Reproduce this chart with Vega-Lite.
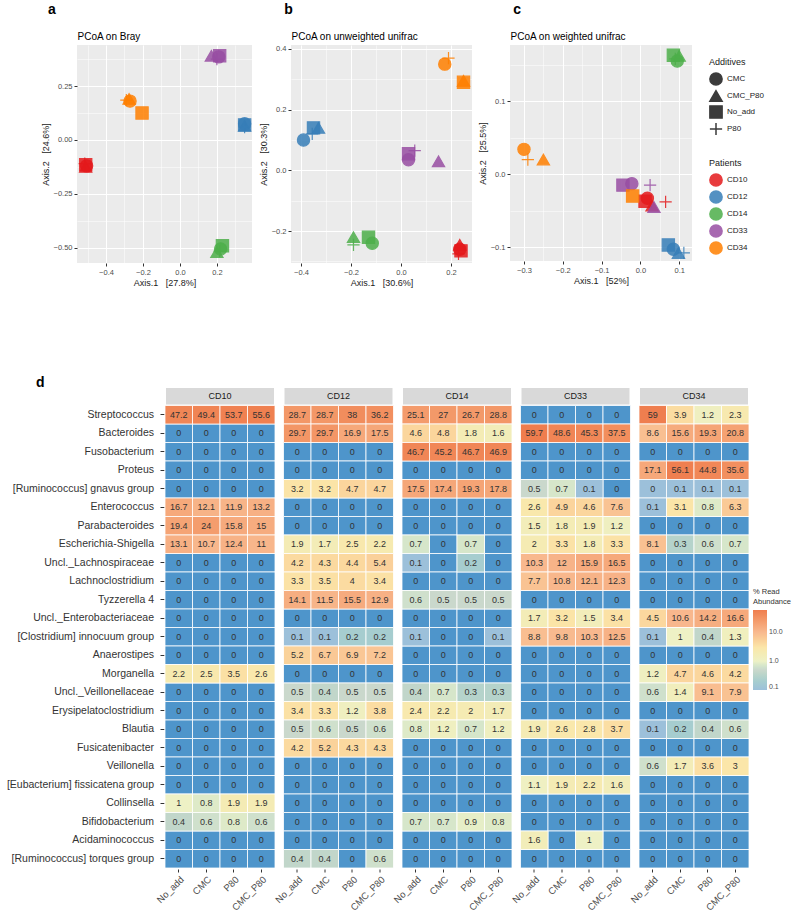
{
"$schema": "https://vega.github.io/schema/vega-lite/v6.json",
"padding": {"left": 6, "top": 3, "right": 2, "bottom": 2},
"config": {
 "font": "Liberation Sans",
 "view": {"stroke": null},
 "axis": {"domain": false, "tickColor": "#333333", "tickSize": 3, "labelColor": "#4D4D4D", "labelFontSize": 7.5, "titleColor": "#1A1A1A", "titleFontSize": 9, "titleFontWeight": "normal", "gridColor": "#FFFFFF", "labelPadding": 2, "titlePadding": 3},
 "legend": {"titleFontWeight": "normal", "titleColor": "#1A1A1A", "labelColor": "#1A1A1A", "titleFontSize": 9, "labelFontSize": 8},
 "title": {"color": "#000000"}
},
"datasets": {
 "pcoa": [
  {"pn":"a","pt":"CD10","ad":"No_add","x":-0.51,"y":-0.115},
  {"pn":"a","pt":"CD10","ad":"CMC","x":-0.505,"y":-0.12},
  {"pn":"a","pt":"CD10","ad":"CMC_P80","x":-0.51,"y":-0.125},
  {"pn":"a","pt":"CD10","ad":"P80","x":-0.515,"y":-0.11},
  {"pn":"a","pt":"CD12","ad":"No_add","x":0.35,"y":0.07},
  {"pn":"a","pt":"CD12","ad":"CMC","x":0.35,"y":0.075},
  {"pn":"a","pt":"CD12","ad":"CMC_P80","x":0.35,"y":0.065},
  {"pn":"a","pt":"CD12","ad":"P80","x":0.35,"y":0.06},
  {"pn":"a","pt":"CD14","ad":"No_add","x":0.23,"y":-0.49},
  {"pn":"a","pt":"CD14","ad":"CMC","x":0.22,"y":-0.505},
  {"pn":"a","pt":"CD14","ad":"CMC_P80","x":0.2,"y":-0.52},
  {"pn":"a","pt":"CD14","ad":"P80","x":0.215,"y":-0.515},
  {"pn":"a","pt":"CD33","ad":"No_add","x":0.215,"y":0.39},
  {"pn":"a","pt":"CD33","ad":"CMC","x":0.21,"y":0.385},
  {"pn":"a","pt":"CD33","ad":"CMC_P80","x":0.17,"y":0.39},
  {"pn":"a","pt":"CD33","ad":"P80","x":0.2,"y":0.375},
  {"pn":"a","pt":"CD34","ad":"No_add","x":-0.205,"y":0.125},
  {"pn":"a","pt":"CD34","ad":"CMC","x":-0.27,"y":0.18},
  {"pn":"a","pt":"CD34","ad":"CMC_P80","x":-0.275,"y":0.19},
  {"pn":"a","pt":"CD34","ad":"P80","x":-0.29,"y":0.185},
  {"pn":"b","pt":"CD10","ad":"No_add","x":0.24,"y":-0.265},
  {"pn":"b","pt":"CD10","ad":"CMC","x":0.235,"y":-0.26},
  {"pn":"b","pt":"CD10","ad":"CMC_P80","x":0.235,"y":-0.245},
  {"pn":"b","pt":"CD10","ad":"P80","x":0.23,"y":-0.275},
  {"pn":"b","pt":"CD12","ad":"No_add","x":-0.35,"y":0.14},
  {"pn":"b","pt":"CD12","ad":"CMC","x":-0.39,"y":0.1},
  {"pn":"b","pt":"CD12","ad":"CMC_P80","x":-0.33,"y":0.14},
  {"pn":"b","pt":"CD12","ad":"P80","x":-0.355,"y":0.12},
  {"pn":"b","pt":"CD14","ad":"No_add","x":-0.13,"y":-0.22},
  {"pn":"b","pt":"CD14","ad":"CMC","x":-0.115,"y":-0.24},
  {"pn":"b","pt":"CD14","ad":"CMC_P80","x":-0.19,"y":-0.22},
  {"pn":"b","pt":"CD14","ad":"P80","x":-0.19,"y":-0.245},
  {"pn":"b","pt":"CD33","ad":"No_add","x":0.03,"y":0.055},
  {"pn":"b","pt":"CD33","ad":"CMC","x":0.03,"y":0.035},
  {"pn":"b","pt":"CD33","ad":"CMC_P80","x":0.15,"y":0.03},
  {"pn":"b","pt":"CD33","ad":"P80","x":0.055,"y":0.065},
  {"pn":"b","pt":"CD34","ad":"No_add","x":0.25,"y":0.29},
  {"pn":"b","pt":"CD34","ad":"CMC","x":0.175,"y":0.35},
  {"pn":"b","pt":"CD34","ad":"CMC_P80","x":0.25,"y":0.295},
  {"pn":"b","pt":"CD34","ad":"P80","x":0.19,"y":0.37},
  {"pn":"c","pt":"CD10","ad":"No_add","x":0.012,"y":-0.037},
  {"pn":"c","pt":"CD10","ad":"CMC","x":0.018,"y":-0.033},
  {"pn":"c","pt":"CD10","ad":"CMC_P80","x":0.03,"y":-0.043},
  {"pn":"c","pt":"CD10","ad":"P80","x":0.065,"y":-0.038},
  {"pn":"c","pt":"CD12","ad":"No_add","x":0.072,"y":-0.097},
  {"pn":"c","pt":"CD12","ad":"CMC","x":0.085,"y":-0.103},
  {"pn":"c","pt":"CD12","ad":"CMC_P80","x":0.098,"y":-0.108},
  {"pn":"c","pt":"CD12","ad":"P80","x":0.112,"y":-0.108},
  {"pn":"c","pt":"CD14","ad":"No_add","x":0.085,"y":0.163},
  {"pn":"c","pt":"CD14","ad":"CMC","x":0.095,"y":0.155},
  {"pn":"c","pt":"CD14","ad":"CMC_P80","x":0.1,"y":0.162},
  {"pn":"c","pt":"CD14","ad":"P80","x":0.09,"y":0.158},
  {"pn":"c","pt":"CD33","ad":"No_add","x":-0.045,"y":-0.015},
  {"pn":"c","pt":"CD33","ad":"CMC","x":-0.022,"y":-0.013},
  {"pn":"c","pt":"CD33","ad":"CMC_P80","x":0.035,"y":-0.045},
  {"pn":"c","pt":"CD33","ad":"P80","x":0.025,"y":-0.015},
  {"pn":"c","pt":"CD34","ad":"No_add","x":-0.02,"y":-0.03},
  {"pn":"c","pt":"CD34","ad":"CMC","x":-0.3,"y":0.034},
  {"pn":"c","pt":"CD34","ad":"CMC_P80","x":-0.25,"y":0.02},
  {"pn":"c","pt":"CD34","ad":"P80","x":-0.29,"y":0.02}
 ],
 "species": [
  {"s":0,"g":"strip"},
  {"s":1,"g":"Streptococcus"},
  {"s":2,"g":"Bacteroides"},
  {"s":3,"g":"Fusobacterium"},
  {"s":4,"g":"Proteus"},
  {"s":5,"g":"[Ruminococcus] gnavus group"},
  {"s":6,"g":"Enterococcus"},
  {"s":7,"g":"Parabacteroides"},
  {"s":8,"g":"Escherichia-Shigella"},
  {"s":9,"g":"Uncl._Lachnospiraceae"},
  {"s":10,"g":"Lachnoclostridium"},
  {"s":11,"g":"Tyzzerella 4"},
  {"s":12,"g":"Uncl._Enterobacteriaceae"},
  {"s":13,"g":"[Clostridium] innocuum group"},
  {"s":14,"g":"Anaerostipes"},
  {"s":15,"g":"Morganella"},
  {"s":16,"g":"Uncl._Veillonellaceae"},
  {"s":17,"g":"Erysipelatoclostridium"},
  {"s":18,"g":"Blautia"},
  {"s":19,"g":"Fusicatenibacter"},
  {"s":20,"g":"Veillonella"},
  {"s":21,"g":"[Eubacterium] fissicatena group"},
  {"s":22,"g":"Collinsella"},
  {"s":23,"g":"Bifidobacterium"},
  {"s":24,"g":"Acidaminococcus"},
  {"s":25,"g":"[Ruminococcus] torques group"}
 ],
 "heat": [
  {"p":"CD10","s":0},{"p":"CD12","s":0},{"p":"CD14","s":0},{"p":"CD33","s":0},{"p":"CD34","s":0},
  {"p":"CD10","s":1,"a":"No_add","v":47.2},{"p":"CD10","s":1,"a":"CMC","v":49.4},{"p":"CD10","s":1,"a":"P80","v":53.7},{"p":"CD10","s":1,"a":"CMC_P80","v":55.6},
  {"p":"CD10","s":2,"a":"No_add","v":0},{"p":"CD10","s":2,"a":"CMC","v":0},{"p":"CD10","s":2,"a":"P80","v":0},{"p":"CD10","s":2,"a":"CMC_P80","v":0},
  {"p":"CD10","s":3,"a":"No_add","v":0},{"p":"CD10","s":3,"a":"CMC","v":0},{"p":"CD10","s":3,"a":"P80","v":0},{"p":"CD10","s":3,"a":"CMC_P80","v":0},
  {"p":"CD10","s":4,"a":"No_add","v":0},{"p":"CD10","s":4,"a":"CMC","v":0},{"p":"CD10","s":4,"a":"P80","v":0},{"p":"CD10","s":4,"a":"CMC_P80","v":0},
  {"p":"CD10","s":5,"a":"No_add","v":0},{"p":"CD10","s":5,"a":"CMC","v":0},{"p":"CD10","s":5,"a":"P80","v":0},{"p":"CD10","s":5,"a":"CMC_P80","v":0},
  {"p":"CD10","s":6,"a":"No_add","v":16.7},{"p":"CD10","s":6,"a":"CMC","v":12.1},{"p":"CD10","s":6,"a":"P80","v":11.9},{"p":"CD10","s":6,"a":"CMC_P80","v":13.2},
  {"p":"CD10","s":7,"a":"No_add","v":19.4},{"p":"CD10","s":7,"a":"CMC","v":24},{"p":"CD10","s":7,"a":"P80","v":15.8},{"p":"CD10","s":7,"a":"CMC_P80","v":15},
  {"p":"CD10","s":8,"a":"No_add","v":13.1},{"p":"CD10","s":8,"a":"CMC","v":10.7},{"p":"CD10","s":8,"a":"P80","v":12.4},{"p":"CD10","s":8,"a":"CMC_P80","v":11},
  {"p":"CD10","s":9,"a":"No_add","v":0},{"p":"CD10","s":9,"a":"CMC","v":0},{"p":"CD10","s":9,"a":"P80","v":0},{"p":"CD10","s":9,"a":"CMC_P80","v":0},
  {"p":"CD10","s":10,"a":"No_add","v":0},{"p":"CD10","s":10,"a":"CMC","v":0},{"p":"CD10","s":10,"a":"P80","v":0},{"p":"CD10","s":10,"a":"CMC_P80","v":0},
  {"p":"CD10","s":11,"a":"No_add","v":0},{"p":"CD10","s":11,"a":"CMC","v":0},{"p":"CD10","s":11,"a":"P80","v":0},{"p":"CD10","s":11,"a":"CMC_P80","v":0},
  {"p":"CD10","s":12,"a":"No_add","v":0},{"p":"CD10","s":12,"a":"CMC","v":0},{"p":"CD10","s":12,"a":"P80","v":0},{"p":"CD10","s":12,"a":"CMC_P80","v":0},
  {"p":"CD10","s":13,"a":"No_add","v":0},{"p":"CD10","s":13,"a":"CMC","v":0},{"p":"CD10","s":13,"a":"P80","v":0},{"p":"CD10","s":13,"a":"CMC_P80","v":0},
  {"p":"CD10","s":14,"a":"No_add","v":0},{"p":"CD10","s":14,"a":"CMC","v":0},{"p":"CD10","s":14,"a":"P80","v":0},{"p":"CD10","s":14,"a":"CMC_P80","v":0},
  {"p":"CD10","s":15,"a":"No_add","v":2.2},{"p":"CD10","s":15,"a":"CMC","v":2.5},{"p":"CD10","s":15,"a":"P80","v":3.5},{"p":"CD10","s":15,"a":"CMC_P80","v":2.6},
  {"p":"CD10","s":16,"a":"No_add","v":0},{"p":"CD10","s":16,"a":"CMC","v":0},{"p":"CD10","s":16,"a":"P80","v":0},{"p":"CD10","s":16,"a":"CMC_P80","v":0},
  {"p":"CD10","s":17,"a":"No_add","v":0},{"p":"CD10","s":17,"a":"CMC","v":0},{"p":"CD10","s":17,"a":"P80","v":0},{"p":"CD10","s":17,"a":"CMC_P80","v":0},
  {"p":"CD10","s":18,"a":"No_add","v":0},{"p":"CD10","s":18,"a":"CMC","v":0},{"p":"CD10","s":18,"a":"P80","v":0},{"p":"CD10","s":18,"a":"CMC_P80","v":0},
  {"p":"CD10","s":19,"a":"No_add","v":0},{"p":"CD10","s":19,"a":"CMC","v":0},{"p":"CD10","s":19,"a":"P80","v":0},{"p":"CD10","s":19,"a":"CMC_P80","v":0},
  {"p":"CD10","s":20,"a":"No_add","v":0},{"p":"CD10","s":20,"a":"CMC","v":0},{"p":"CD10","s":20,"a":"P80","v":0},{"p":"CD10","s":20,"a":"CMC_P80","v":0},
  {"p":"CD10","s":21,"a":"No_add","v":0},{"p":"CD10","s":21,"a":"CMC","v":0},{"p":"CD10","s":21,"a":"P80","v":0},{"p":"CD10","s":21,"a":"CMC_P80","v":0},
  {"p":"CD10","s":22,"a":"No_add","v":1},{"p":"CD10","s":22,"a":"CMC","v":0.8},{"p":"CD10","s":22,"a":"P80","v":1.9},{"p":"CD10","s":22,"a":"CMC_P80","v":1.9},
  {"p":"CD10","s":23,"a":"No_add","v":0.4},{"p":"CD10","s":23,"a":"CMC","v":0.6},{"p":"CD10","s":23,"a":"P80","v":0.8},{"p":"CD10","s":23,"a":"CMC_P80","v":0.6},
  {"p":"CD10","s":24,"a":"No_add","v":0},{"p":"CD10","s":24,"a":"CMC","v":0},{"p":"CD10","s":24,"a":"P80","v":0},{"p":"CD10","s":24,"a":"CMC_P80","v":0},
  {"p":"CD10","s":25,"a":"No_add","v":0},{"p":"CD10","s":25,"a":"CMC","v":0},{"p":"CD10","s":25,"a":"P80","v":0},{"p":"CD10","s":25,"a":"CMC_P80","v":0},
  {"p":"CD12","s":1,"a":"No_add","v":28.7},{"p":"CD12","s":1,"a":"CMC","v":28.7},{"p":"CD12","s":1,"a":"P80","v":38},{"p":"CD12","s":1,"a":"CMC_P80","v":36.2},
  {"p":"CD12","s":2,"a":"No_add","v":29.7},{"p":"CD12","s":2,"a":"CMC","v":29.7},{"p":"CD12","s":2,"a":"P80","v":16.9},{"p":"CD12","s":2,"a":"CMC_P80","v":17.5},
  {"p":"CD12","s":3,"a":"No_add","v":0},{"p":"CD12","s":3,"a":"CMC","v":0},{"p":"CD12","s":3,"a":"P80","v":0},{"p":"CD12","s":3,"a":"CMC_P80","v":0},
  {"p":"CD12","s":4,"a":"No_add","v":0},{"p":"CD12","s":4,"a":"CMC","v":0},{"p":"CD12","s":4,"a":"P80","v":0},{"p":"CD12","s":4,"a":"CMC_P80","v":0},
  {"p":"CD12","s":5,"a":"No_add","v":3.2},{"p":"CD12","s":5,"a":"CMC","v":3.2},{"p":"CD12","s":5,"a":"P80","v":4.7},{"p":"CD12","s":5,"a":"CMC_P80","v":4.7},
  {"p":"CD12","s":6,"a":"No_add","v":0},{"p":"CD12","s":6,"a":"CMC","v":0},{"p":"CD12","s":6,"a":"P80","v":0},{"p":"CD12","s":6,"a":"CMC_P80","v":0},
  {"p":"CD12","s":7,"a":"No_add","v":0},{"p":"CD12","s":7,"a":"CMC","v":0},{"p":"CD12","s":7,"a":"P80","v":0},{"p":"CD12","s":7,"a":"CMC_P80","v":0},
  {"p":"CD12","s":8,"a":"No_add","v":1.9},{"p":"CD12","s":8,"a":"CMC","v":1.7},{"p":"CD12","s":8,"a":"P80","v":2.5},{"p":"CD12","s":8,"a":"CMC_P80","v":2.2},
  {"p":"CD12","s":9,"a":"No_add","v":4.2},{"p":"CD12","s":9,"a":"CMC","v":4.3},{"p":"CD12","s":9,"a":"P80","v":4.4},{"p":"CD12","s":9,"a":"CMC_P80","v":5.4},
  {"p":"CD12","s":10,"a":"No_add","v":3.3},{"p":"CD12","s":10,"a":"CMC","v":3.5},{"p":"CD12","s":10,"a":"P80","v":4},{"p":"CD12","s":10,"a":"CMC_P80","v":3.4},
  {"p":"CD12","s":11,"a":"No_add","v":14.1},{"p":"CD12","s":11,"a":"CMC","v":11.5},{"p":"CD12","s":11,"a":"P80","v":15.5},{"p":"CD12","s":11,"a":"CMC_P80","v":12.9},
  {"p":"CD12","s":12,"a":"No_add","v":0},{"p":"CD12","s":12,"a":"CMC","v":0},{"p":"CD12","s":12,"a":"P80","v":0},{"p":"CD12","s":12,"a":"CMC_P80","v":0},
  {"p":"CD12","s":13,"a":"No_add","v":0.1},{"p":"CD12","s":13,"a":"CMC","v":0.1},{"p":"CD12","s":13,"a":"P80","v":0.2},{"p":"CD12","s":13,"a":"CMC_P80","v":0.2},
  {"p":"CD12","s":14,"a":"No_add","v":5.2},{"p":"CD12","s":14,"a":"CMC","v":6.7},{"p":"CD12","s":14,"a":"P80","v":6.9},{"p":"CD12","s":14,"a":"CMC_P80","v":7.2},
  {"p":"CD12","s":15,"a":"No_add","v":0},{"p":"CD12","s":15,"a":"CMC","v":0},{"p":"CD12","s":15,"a":"P80","v":0},{"p":"CD12","s":15,"a":"CMC_P80","v":0},
  {"p":"CD12","s":16,"a":"No_add","v":0.5},{"p":"CD12","s":16,"a":"CMC","v":0.4},{"p":"CD12","s":16,"a":"P80","v":0.5},{"p":"CD12","s":16,"a":"CMC_P80","v":0.5},
  {"p":"CD12","s":17,"a":"No_add","v":3.4},{"p":"CD12","s":17,"a":"CMC","v":3.3},{"p":"CD12","s":17,"a":"P80","v":1.2},{"p":"CD12","s":17,"a":"CMC_P80","v":3.8},
  {"p":"CD12","s":18,"a":"No_add","v":0.5},{"p":"CD12","s":18,"a":"CMC","v":0.6},{"p":"CD12","s":18,"a":"P80","v":0.5},{"p":"CD12","s":18,"a":"CMC_P80","v":0.6},
  {"p":"CD12","s":19,"a":"No_add","v":4.2},{"p":"CD12","s":19,"a":"CMC","v":5.2},{"p":"CD12","s":19,"a":"P80","v":4.3},{"p":"CD12","s":19,"a":"CMC_P80","v":4.3},
  {"p":"CD12","s":20,"a":"No_add","v":0},{"p":"CD12","s":20,"a":"CMC","v":0},{"p":"CD12","s":20,"a":"P80","v":0},{"p":"CD12","s":20,"a":"CMC_P80","v":0},
  {"p":"CD12","s":21,"a":"No_add","v":0},{"p":"CD12","s":21,"a":"CMC","v":0},{"p":"CD12","s":21,"a":"P80","v":0},{"p":"CD12","s":21,"a":"CMC_P80","v":0},
  {"p":"CD12","s":22,"a":"No_add","v":0},{"p":"CD12","s":22,"a":"CMC","v":0},{"p":"CD12","s":22,"a":"P80","v":0},{"p":"CD12","s":22,"a":"CMC_P80","v":0},
  {"p":"CD12","s":23,"a":"No_add","v":0},{"p":"CD12","s":23,"a":"CMC","v":0},{"p":"CD12","s":23,"a":"P80","v":0},{"p":"CD12","s":23,"a":"CMC_P80","v":0},
  {"p":"CD12","s":24,"a":"No_add","v":0},{"p":"CD12","s":24,"a":"CMC","v":0},{"p":"CD12","s":24,"a":"P80","v":0},{"p":"CD12","s":24,"a":"CMC_P80","v":0},
  {"p":"CD12","s":25,"a":"No_add","v":0.4},{"p":"CD12","s":25,"a":"CMC","v":0.4},{"p":"CD12","s":25,"a":"P80","v":0},{"p":"CD12","s":25,"a":"CMC_P80","v":0.6},
  {"p":"CD14","s":1,"a":"No_add","v":25.1},{"p":"CD14","s":1,"a":"CMC","v":27},{"p":"CD14","s":1,"a":"P80","v":26.7},{"p":"CD14","s":1,"a":"CMC_P80","v":28.8},
  {"p":"CD14","s":2,"a":"No_add","v":4.6},{"p":"CD14","s":2,"a":"CMC","v":4.8},{"p":"CD14","s":2,"a":"P80","v":1.8},{"p":"CD14","s":2,"a":"CMC_P80","v":1.6},
  {"p":"CD14","s":3,"a":"No_add","v":46.7},{"p":"CD14","s":3,"a":"CMC","v":45.2},{"p":"CD14","s":3,"a":"P80","v":46.7},{"p":"CD14","s":3,"a":"CMC_P80","v":46.9},
  {"p":"CD14","s":4,"a":"No_add","v":0},{"p":"CD14","s":4,"a":"CMC","v":0},{"p":"CD14","s":4,"a":"P80","v":0},{"p":"CD14","s":4,"a":"CMC_P80","v":0},
  {"p":"CD14","s":5,"a":"No_add","v":17.5},{"p":"CD14","s":5,"a":"CMC","v":17.4},{"p":"CD14","s":5,"a":"P80","v":19.3},{"p":"CD14","s":5,"a":"CMC_P80","v":17.8},
  {"p":"CD14","s":6,"a":"No_add","v":0},{"p":"CD14","s":6,"a":"CMC","v":0},{"p":"CD14","s":6,"a":"P80","v":0},{"p":"CD14","s":6,"a":"CMC_P80","v":0},
  {"p":"CD14","s":7,"a":"No_add","v":0},{"p":"CD14","s":7,"a":"CMC","v":0},{"p":"CD14","s":7,"a":"P80","v":0},{"p":"CD14","s":7,"a":"CMC_P80","v":0},
  {"p":"CD14","s":8,"a":"No_add","v":0.7},{"p":"CD14","s":8,"a":"CMC","v":0},{"p":"CD14","s":8,"a":"P80","v":0.7},{"p":"CD14","s":8,"a":"CMC_P80","v":0},
  {"p":"CD14","s":9,"a":"No_add","v":0.1},{"p":"CD14","s":9,"a":"CMC","v":0},{"p":"CD14","s":9,"a":"P80","v":0.2},{"p":"CD14","s":9,"a":"CMC_P80","v":0},
  {"p":"CD14","s":10,"a":"No_add","v":0},{"p":"CD14","s":10,"a":"CMC","v":0},{"p":"CD14","s":10,"a":"P80","v":0},{"p":"CD14","s":10,"a":"CMC_P80","v":0},
  {"p":"CD14","s":11,"a":"No_add","v":0.6},{"p":"CD14","s":11,"a":"CMC","v":0.5},{"p":"CD14","s":11,"a":"P80","v":0.5},{"p":"CD14","s":11,"a":"CMC_P80","v":0.5},
  {"p":"CD14","s":12,"a":"No_add","v":0},{"p":"CD14","s":12,"a":"CMC","v":0},{"p":"CD14","s":12,"a":"P80","v":0},{"p":"CD14","s":12,"a":"CMC_P80","v":0},
  {"p":"CD14","s":13,"a":"No_add","v":0.1},{"p":"CD14","s":13,"a":"CMC","v":0},{"p":"CD14","s":13,"a":"P80","v":0},{"p":"CD14","s":13,"a":"CMC_P80","v":0.1},
  {"p":"CD14","s":14,"a":"No_add","v":0},{"p":"CD14","s":14,"a":"CMC","v":0},{"p":"CD14","s":14,"a":"P80","v":0},{"p":"CD14","s":14,"a":"CMC_P80","v":0},
  {"p":"CD14","s":15,"a":"No_add","v":0},{"p":"CD14","s":15,"a":"CMC","v":0},{"p":"CD14","s":15,"a":"P80","v":0},{"p":"CD14","s":15,"a":"CMC_P80","v":0},
  {"p":"CD14","s":16,"a":"No_add","v":0.4},{"p":"CD14","s":16,"a":"CMC","v":0.7},{"p":"CD14","s":16,"a":"P80","v":0.3},{"p":"CD14","s":16,"a":"CMC_P80","v":0.3},
  {"p":"CD14","s":17,"a":"No_add","v":2.4},{"p":"CD14","s":17,"a":"CMC","v":2.2},{"p":"CD14","s":17,"a":"P80","v":2},{"p":"CD14","s":17,"a":"CMC_P80","v":1.7},
  {"p":"CD14","s":18,"a":"No_add","v":0.8},{"p":"CD14","s":18,"a":"CMC","v":1.2},{"p":"CD14","s":18,"a":"P80","v":0.7},{"p":"CD14","s":18,"a":"CMC_P80","v":1.2},
  {"p":"CD14","s":19,"a":"No_add","v":0},{"p":"CD14","s":19,"a":"CMC","v":0},{"p":"CD14","s":19,"a":"P80","v":0},{"p":"CD14","s":19,"a":"CMC_P80","v":0},
  {"p":"CD14","s":20,"a":"No_add","v":0},{"p":"CD14","s":20,"a":"CMC","v":0},{"p":"CD14","s":20,"a":"P80","v":0},{"p":"CD14","s":20,"a":"CMC_P80","v":0},
  {"p":"CD14","s":21,"a":"No_add","v":0},{"p":"CD14","s":21,"a":"CMC","v":0},{"p":"CD14","s":21,"a":"P80","v":0},{"p":"CD14","s":21,"a":"CMC_P80","v":0},
  {"p":"CD14","s":22,"a":"No_add","v":0},{"p":"CD14","s":22,"a":"CMC","v":0},{"p":"CD14","s":22,"a":"P80","v":0},{"p":"CD14","s":22,"a":"CMC_P80","v":0},
  {"p":"CD14","s":23,"a":"No_add","v":0.7},{"p":"CD14","s":23,"a":"CMC","v":0.7},{"p":"CD14","s":23,"a":"P80","v":0.9},{"p":"CD14","s":23,"a":"CMC_P80","v":0.8},
  {"p":"CD14","s":24,"a":"No_add","v":0},{"p":"CD14","s":24,"a":"CMC","v":0},{"p":"CD14","s":24,"a":"P80","v":0},{"p":"CD14","s":24,"a":"CMC_P80","v":0},
  {"p":"CD14","s":25,"a":"No_add","v":0},{"p":"CD14","s":25,"a":"CMC","v":0},{"p":"CD14","s":25,"a":"P80","v":0},{"p":"CD14","s":25,"a":"CMC_P80","v":0},
  {"p":"CD33","s":1,"a":"No_add","v":0},{"p":"CD33","s":1,"a":"CMC","v":0},{"p":"CD33","s":1,"a":"P80","v":0},{"p":"CD33","s":1,"a":"CMC_P80","v":0},
  {"p":"CD33","s":2,"a":"No_add","v":59.7},{"p":"CD33","s":2,"a":"CMC","v":48.6},{"p":"CD33","s":2,"a":"P80","v":45.3},{"p":"CD33","s":2,"a":"CMC_P80","v":37.5},
  {"p":"CD33","s":3,"a":"No_add","v":0},{"p":"CD33","s":3,"a":"CMC","v":0},{"p":"CD33","s":3,"a":"P80","v":0},{"p":"CD33","s":3,"a":"CMC_P80","v":0},
  {"p":"CD33","s":4,"a":"No_add","v":0},{"p":"CD33","s":4,"a":"CMC","v":0},{"p":"CD33","s":4,"a":"P80","v":0},{"p":"CD33","s":4,"a":"CMC_P80","v":0},
  {"p":"CD33","s":5,"a":"No_add","v":0.5},{"p":"CD33","s":5,"a":"CMC","v":0.7},{"p":"CD33","s":5,"a":"P80","v":0.1},{"p":"CD33","s":5,"a":"CMC_P80","v":0},
  {"p":"CD33","s":6,"a":"No_add","v":2.6},{"p":"CD33","s":6,"a":"CMC","v":4.9},{"p":"CD33","s":6,"a":"P80","v":4.6},{"p":"CD33","s":6,"a":"CMC_P80","v":7.6},
  {"p":"CD33","s":7,"a":"No_add","v":1.5},{"p":"CD33","s":7,"a":"CMC","v":1.8},{"p":"CD33","s":7,"a":"P80","v":1.9},{"p":"CD33","s":7,"a":"CMC_P80","v":1.2},
  {"p":"CD33","s":8,"a":"No_add","v":2},{"p":"CD33","s":8,"a":"CMC","v":3.3},{"p":"CD33","s":8,"a":"P80","v":1.8},{"p":"CD33","s":8,"a":"CMC_P80","v":3.3},
  {"p":"CD33","s":9,"a":"No_add","v":10.3},{"p":"CD33","s":9,"a":"CMC","v":12},{"p":"CD33","s":9,"a":"P80","v":15.9},{"p":"CD33","s":9,"a":"CMC_P80","v":16.5},
  {"p":"CD33","s":10,"a":"No_add","v":7.7},{"p":"CD33","s":10,"a":"CMC","v":10.8},{"p":"CD33","s":10,"a":"P80","v":12.1},{"p":"CD33","s":10,"a":"CMC_P80","v":12.3},
  {"p":"CD33","s":11,"a":"No_add","v":0},{"p":"CD33","s":11,"a":"CMC","v":0},{"p":"CD33","s":11,"a":"P80","v":0},{"p":"CD33","s":11,"a":"CMC_P80","v":0},
  {"p":"CD33","s":12,"a":"No_add","v":1.7},{"p":"CD33","s":12,"a":"CMC","v":3.2},{"p":"CD33","s":12,"a":"P80","v":1.5},{"p":"CD33","s":12,"a":"CMC_P80","v":3.4},
  {"p":"CD33","s":13,"a":"No_add","v":8.8},{"p":"CD33","s":13,"a":"CMC","v":9.8},{"p":"CD33","s":13,"a":"P80","v":10.3},{"p":"CD33","s":13,"a":"CMC_P80","v":12.5},
  {"p":"CD33","s":14,"a":"No_add","v":0},{"p":"CD33","s":14,"a":"CMC","v":0},{"p":"CD33","s":14,"a":"P80","v":0},{"p":"CD33","s":14,"a":"CMC_P80","v":0},
  {"p":"CD33","s":15,"a":"No_add","v":0},{"p":"CD33","s":15,"a":"CMC","v":0},{"p":"CD33","s":15,"a":"P80","v":0},{"p":"CD33","s":15,"a":"CMC_P80","v":0},
  {"p":"CD33","s":16,"a":"No_add","v":0},{"p":"CD33","s":16,"a":"CMC","v":0},{"p":"CD33","s":16,"a":"P80","v":0},{"p":"CD33","s":16,"a":"CMC_P80","v":0},
  {"p":"CD33","s":17,"a":"No_add","v":0},{"p":"CD33","s":17,"a":"CMC","v":0},{"p":"CD33","s":17,"a":"P80","v":0},{"p":"CD33","s":17,"a":"CMC_P80","v":0},
  {"p":"CD33","s":18,"a":"No_add","v":1.9},{"p":"CD33","s":18,"a":"CMC","v":2.6},{"p":"CD33","s":18,"a":"P80","v":2.8},{"p":"CD33","s":18,"a":"CMC_P80","v":3.7},
  {"p":"CD33","s":19,"a":"No_add","v":0},{"p":"CD33","s":19,"a":"CMC","v":0},{"p":"CD33","s":19,"a":"P80","v":0},{"p":"CD33","s":19,"a":"CMC_P80","v":0},
  {"p":"CD33","s":20,"a":"No_add","v":0},{"p":"CD33","s":20,"a":"CMC","v":0},{"p":"CD33","s":20,"a":"P80","v":0},{"p":"CD33","s":20,"a":"CMC_P80","v":0},
  {"p":"CD33","s":21,"a":"No_add","v":1.1},{"p":"CD33","s":21,"a":"CMC","v":1.9},{"p":"CD33","s":21,"a":"P80","v":2.2},{"p":"CD33","s":21,"a":"CMC_P80","v":1.6},
  {"p":"CD33","s":22,"a":"No_add","v":0},{"p":"CD33","s":22,"a":"CMC","v":0},{"p":"CD33","s":22,"a":"P80","v":0},{"p":"CD33","s":22,"a":"CMC_P80","v":0},
  {"p":"CD33","s":23,"a":"No_add","v":0},{"p":"CD33","s":23,"a":"CMC","v":0},{"p":"CD33","s":23,"a":"P80","v":0},{"p":"CD33","s":23,"a":"CMC_P80","v":0},
  {"p":"CD33","s":24,"a":"No_add","v":1.6},{"p":"CD33","s":24,"a":"CMC","v":0},{"p":"CD33","s":24,"a":"P80","v":1},{"p":"CD33","s":24,"a":"CMC_P80","v":0},
  {"p":"CD33","s":25,"a":"No_add","v":0},{"p":"CD33","s":25,"a":"CMC","v":0},{"p":"CD33","s":25,"a":"P80","v":0},{"p":"CD33","s":25,"a":"CMC_P80","v":0},
  {"p":"CD34","s":1,"a":"No_add","v":59},{"p":"CD34","s":1,"a":"CMC","v":3.9},{"p":"CD34","s":1,"a":"P80","v":1.2},{"p":"CD34","s":1,"a":"CMC_P80","v":2.3},
  {"p":"CD34","s":2,"a":"No_add","v":8.6},{"p":"CD34","s":2,"a":"CMC","v":15.6},{"p":"CD34","s":2,"a":"P80","v":19.3},{"p":"CD34","s":2,"a":"CMC_P80","v":20.8},
  {"p":"CD34","s":3,"a":"No_add","v":0},{"p":"CD34","s":3,"a":"CMC","v":0},{"p":"CD34","s":3,"a":"P80","v":0},{"p":"CD34","s":3,"a":"CMC_P80","v":0},
  {"p":"CD34","s":4,"a":"No_add","v":17.1},{"p":"CD34","s":4,"a":"CMC","v":56.1},{"p":"CD34","s":4,"a":"P80","v":44.8},{"p":"CD34","s":4,"a":"CMC_P80","v":35.6},
  {"p":"CD34","s":5,"a":"No_add","v":0.04},{"p":"CD34","s":5,"a":"CMC","v":0.1},{"p":"CD34","s":5,"a":"P80","v":0.1},{"p":"CD34","s":5,"a":"CMC_P80","v":0.1},
  {"p":"CD34","s":6,"a":"No_add","v":0.1},{"p":"CD34","s":6,"a":"CMC","v":3.1},{"p":"CD34","s":6,"a":"P80","v":0.8},{"p":"CD34","s":6,"a":"CMC_P80","v":6.3},
  {"p":"CD34","s":7,"a":"No_add","v":0},{"p":"CD34","s":7,"a":"CMC","v":0},{"p":"CD34","s":7,"a":"P80","v":0},{"p":"CD34","s":7,"a":"CMC_P80","v":0},
  {"p":"CD34","s":8,"a":"No_add","v":8.1},{"p":"CD34","s":8,"a":"CMC","v":0.3},{"p":"CD34","s":8,"a":"P80","v":0.6},{"p":"CD34","s":8,"a":"CMC_P80","v":0.7},
  {"p":"CD34","s":9,"a":"No_add","v":0},{"p":"CD34","s":9,"a":"CMC","v":0},{"p":"CD34","s":9,"a":"P80","v":0},{"p":"CD34","s":9,"a":"CMC_P80","v":0},
  {"p":"CD34","s":10,"a":"No_add","v":0},{"p":"CD34","s":10,"a":"CMC","v":0},{"p":"CD34","s":10,"a":"P80","v":0},{"p":"CD34","s":10,"a":"CMC_P80","v":0},
  {"p":"CD34","s":11,"a":"No_add","v":0},{"p":"CD34","s":11,"a":"CMC","v":0},{"p":"CD34","s":11,"a":"P80","v":0},{"p":"CD34","s":11,"a":"CMC_P80","v":0},
  {"p":"CD34","s":12,"a":"No_add","v":4.5},{"p":"CD34","s":12,"a":"CMC","v":10.6},{"p":"CD34","s":12,"a":"P80","v":14.2},{"p":"CD34","s":12,"a":"CMC_P80","v":16.6},
  {"p":"CD34","s":13,"a":"No_add","v":0.1},{"p":"CD34","s":13,"a":"CMC","v":1},{"p":"CD34","s":13,"a":"P80","v":0.4},{"p":"CD34","s":13,"a":"CMC_P80","v":1.3},
  {"p":"CD34","s":14,"a":"No_add","v":0},{"p":"CD34","s":14,"a":"CMC","v":0},{"p":"CD34","s":14,"a":"P80","v":0},{"p":"CD34","s":14,"a":"CMC_P80","v":0},
  {"p":"CD34","s":15,"a":"No_add","v":1.2},{"p":"CD34","s":15,"a":"CMC","v":4.7},{"p":"CD34","s":15,"a":"P80","v":4.6},{"p":"CD34","s":15,"a":"CMC_P80","v":4.2},
  {"p":"CD34","s":16,"a":"No_add","v":0.6},{"p":"CD34","s":16,"a":"CMC","v":1.4},{"p":"CD34","s":16,"a":"P80","v":9.1},{"p":"CD34","s":16,"a":"CMC_P80","v":7.9},
  {"p":"CD34","s":17,"a":"No_add","v":0},{"p":"CD34","s":17,"a":"CMC","v":0},{"p":"CD34","s":17,"a":"P80","v":0},{"p":"CD34","s":17,"a":"CMC_P80","v":0},
  {"p":"CD34","s":18,"a":"No_add","v":0.1},{"p":"CD34","s":18,"a":"CMC","v":0.2},{"p":"CD34","s":18,"a":"P80","v":0.4},{"p":"CD34","s":18,"a":"CMC_P80","v":0.6},
  {"p":"CD34","s":19,"a":"No_add","v":0},{"p":"CD34","s":19,"a":"CMC","v":0},{"p":"CD34","s":19,"a":"P80","v":0},{"p":"CD34","s":19,"a":"CMC_P80","v":0},
  {"p":"CD34","s":20,"a":"No_add","v":0.6},{"p":"CD34","s":20,"a":"CMC","v":1.7},{"p":"CD34","s":20,"a":"P80","v":3.6},{"p":"CD34","s":20,"a":"CMC_P80","v":3},
  {"p":"CD34","s":21,"a":"No_add","v":0},{"p":"CD34","s":21,"a":"CMC","v":0},{"p":"CD34","s":21,"a":"P80","v":0},{"p":"CD34","s":21,"a":"CMC_P80","v":0},
  {"p":"CD34","s":22,"a":"No_add","v":0},{"p":"CD34","s":22,"a":"CMC","v":0},{"p":"CD34","s":22,"a":"P80","v":0},{"p":"CD34","s":22,"a":"CMC_P80","v":0},
  {"p":"CD34","s":23,"a":"No_add","v":0},{"p":"CD34","s":23,"a":"CMC","v":0},{"p":"CD34","s":23,"a":"P80","v":0},{"p":"CD34","s":23,"a":"CMC_P80","v":0},
  {"p":"CD34","s":24,"a":"No_add","v":0},{"p":"CD34","s":24,"a":"CMC","v":0},{"p":"CD34","s":24,"a":"P80","v":0},{"p":"CD34","s":24,"a":"CMC_P80","v":0},
  {"p":"CD34","s":25,"a":"No_add","v":0},{"p":"CD34","s":25,"a":"CMC","v":0},{"p":"CD34","s":25,"a":"P80","v":0},{"p":"CD34","s":25,"a":"CMC_P80","v":0}
 ]
},
"vconcat": [
 {
  "hconcat": [
   {"width": 28, "height": 10, "data": {"values": [{"z": 0}]}, "mark": {"type": "point", "opacity": 0}, "encoding": {}},
   {
    "width": 175, "height": 218,
    "view": {"fill": "#EBEBEB", "stroke": null},
    "title": {"text": "a", "anchor": "start", "frame": "bounds", "fontSize": 14, "fontWeight": "bold", "offset": 14, "dx": 7},
    "data": {"name": "pcoa"},
    "transform": [{"filter": "datum.pn == 'a'"}],
    "layer": [
     {"mark": {"type": "point", "filled": true, "size": 150, "strokeWidth": 1.2, "opacity": 0.85},
      "encoding": {
       "x": {"field": "x", "type": "quantitative", "scale": {"domain": [-0.557, 0.39], "nice": false, "zero": false},
        "axis": {"title": "Axis.1\u00a0\u00a0 [27.8%]", "values": [-0.5,-0.4,-0.3,-0.2,-0.1,0,0.1,0.2,0.3], "format": ".1f",
         "labelExpr": "indexof([-0.4,-0.2,0,0.2], datum.value) >= 0 ? datum.label : ''",
         "tickOpacity": {"condition": {"test": "indexof([-0.4,-0.2,0,0.2], datum.value) < 0", "value": 0}, "value": 1},
         "gridWidth": {"condition": {"test": "indexof([-0.4,-0.2,0,0.2], datum.value) < 0", "value": 0.5}, "value": 1.1}}},
       "y": {"field": "y", "type": "quantitative", "scale": {"domain": [-0.57, 0.44], "nice": false, "zero": false},
        "axis": {"title": "Axis.2\u00a0\u00a0 [24.6%]", "values": [-0.5,-0.375,-0.25,-0.125,0,0.125,0.25,0.375], "format": ".2f",
         "labelExpr": "indexof([-0.5,-0.25,0,0.25], datum.value) >= 0 ? datum.label : ''",
         "tickOpacity": {"condition": {"test": "indexof([-0.5,-0.25,0,0.25], datum.value) < 0", "value": 0}, "value": 1},
         "gridWidth": {"condition": {"test": "indexof([-0.5,-0.25,0,0.25], datum.value) < 0", "value": 0.5}, "value": 1.1}}},
       "color": {"field": "pt", "type": "nominal", "scale": {"domain": ["CD10","CD12","CD14","CD33","CD34"], "range": ["#E41A1C","#377EB8","#4DAF4A","#984EA3","#FF7F00"]},
        "legend": {"title": "Patients", "orient": "none", "legendX": 701, "legendY": 114, "symbolType": "circle", "symbolSize": 150, "symbolOpacity": 0.85, "rowPadding": -4}},
       "stroke": {"field": "pt", "type": "nominal", "scale": {"domain": ["CD10","CD12","CD14","CD33","CD34"], "range": ["#E41A1C","#377EB8","#4DAF4A","#984EA3","#FF7F00"]}, "legend": null},
       "shape": {"field": "ad", "type": "nominal", "scale": {"domain": ["CMC","CMC_P80","No_add","P80"], "range": ["circle","triangle-up","square","M-1,0H1M0,-1V1"]},
        "legend": {"title": "Additives", "orient": "none", "legendX": 701, "legendY": 13, "symbolSize": 150, "rowPadding": -4, "symbolStrokeColor": "#1A1A1A", "symbolStrokeWidth": 1.5, "symbolFillColor": "#1A1A1A",
         "encode": {"symbols": {"enter": {"stroke": {"value": "#1A1A1A"}, "strokeWidth": {"value": 1.5}}, "update": {"fill": {"value": "#1A1A1A"}, "stroke": {"value": "#1A1A1A"}, "strokeWidth": {"value": 1.5}, "opacity": {"value": 1}}}}}}
      }},
     {"mark": {"type": "point", "opacity": 0},
      "encoding": {"x": {"field": "x", "type": "quantitative", "axis": {"orient": "top", "title": "PCoA on Bray", "labels": false, "ticks": false, "domain": false, "grid": false, "titleAnchor": "start", "titleAlign": "left", "titlePadding": 4, "titleFontSize": 10, "titleColor": "#000000"}}}}
    ],
    "resolve": {"axis": {"x": "independent"}}
   },
   {
    "width": 181, "height": 218,
    "view": {"fill": "#EBEBEB", "stroke": null},
    "title": {"text": "b", "anchor": "start", "frame": "bounds", "fontSize": 14, "fontWeight": "bold", "offset": 14, "dx": 25},
    "data": {"name": "pcoa"},
    "transform": [{"filter": "datum.pn == 'b'"}],
    "layer": [
     {"mark": {"type": "point", "filled": true, "size": 150, "strokeWidth": 1.2, "opacity": 0.85},
      "encoding": {
       "x": {"field": "x", "type": "quantitative", "scale": {"domain": [-0.44, 0.284], "nice": false, "zero": false},
        "axis": {"title": "Axis.1\u00a0\u00a0 [30.6%]", "values": [-0.4,-0.3,-0.2,-0.1,0,0.1,0.2], "format": ".1f",
         "labelExpr": "indexof([-0.4,-0.2,0,0.2], datum.value) >= 0 ? datum.label : ''",
         "tickOpacity": {"condition": {"test": "indexof([-0.4,-0.2,0,0.2], datum.value) < 0", "value": 0}, "value": 1},
         "gridWidth": {"condition": {"test": "indexof([-0.4,-0.2,0,0.2], datum.value) < 0", "value": 0.5}, "value": 1.1}}},
       "y": {"field": "y", "type": "quantitative", "scale": {"domain": [-0.305, 0.413], "nice": false, "zero": false},
        "axis": {"title": "Axis.2\u00a0\u00a0 [30.3%]", "values": [-0.3,-0.2,-0.1,0,0.1,0.2,0.3,0.4], "format": ".1f",
         "labelExpr": "indexof([-0.2,0,0.2,0.4], datum.value) >= 0 ? datum.label : ''",
         "tickOpacity": {"condition": {"test": "indexof([-0.2,0,0.2,0.4], datum.value) < 0", "value": 0}, "value": 1},
         "gridWidth": {"condition": {"test": "indexof([-0.2,0,0.2,0.4], datum.value) < 0", "value": 0.5}, "value": 1.1}}},
       "color": {"field": "pt", "type": "nominal", "scale": {"domain": ["CD10","CD12","CD14","CD33","CD34"], "range": ["#E41A1C","#377EB8","#4DAF4A","#984EA3","#FF7F00"]},
        "legend": {"title": "Patients", "orient": "none", "legendX": 701, "legendY": 114, "symbolType": "circle", "symbolSize": 150, "symbolOpacity": 0.85, "rowPadding": -4}},
       "stroke": {"field": "pt", "type": "nominal", "scale": {"domain": ["CD10","CD12","CD14","CD33","CD34"], "range": ["#E41A1C","#377EB8","#4DAF4A","#984EA3","#FF7F00"]}, "legend": null},
       "shape": {"field": "ad", "type": "nominal", "scale": {"domain": ["CMC","CMC_P80","No_add","P80"], "range": ["circle","triangle-up","square","M-1,0H1M0,-1V1"]},
        "legend": {"title": "Additives", "orient": "none", "legendX": 701, "legendY": 13, "symbolSize": 150, "rowPadding": -4, "symbolStrokeColor": "#1A1A1A", "symbolStrokeWidth": 1.5, "symbolFillColor": "#1A1A1A",
         "encode": {"symbols": {"enter": {"stroke": {"value": "#1A1A1A"}, "strokeWidth": {"value": 1.5}}, "update": {"fill": {"value": "#1A1A1A"}, "stroke": {"value": "#1A1A1A"}, "strokeWidth": {"value": 1.5}, "opacity": {"value": 1}}}}}}
      }},
     {"mark": {"type": "point", "opacity": 0},
      "encoding": {"x": {"field": "x", "type": "quantitative", "axis": {"orient": "top", "title": "PCoA on unweighted unifrac", "labels": false, "ticks": false, "domain": false, "grid": false, "titleAnchor": "start", "titleAlign": "left", "titlePadding": 4, "titleFontSize": 10, "titleColor": "#000000"}}}}
    ],
    "resolve": {"axis": {"x": "independent"}}
   },
   {
    "width": 182, "height": 216,
    "view": {"fill": "#EBEBEB", "stroke": null},
    "title": {"text": "c", "anchor": "start", "frame": "bounds", "fontSize": 14, "fontWeight": "bold", "offset": 14, "dx": 35},
    "data": {"name": "pcoa"},
    "transform": [{"filter": "datum.pn == 'c'"}],
    "layer": [
     {"mark": {"type": "point", "filled": true, "size": 150, "strokeWidth": 1.2, "opacity": 0.85},
      "encoding": {
       "x": {"field": "x", "type": "quantitative", "scale": {"domain": [-0.336, 0.133], "nice": false, "zero": false},
        "axis": {"title": "Axis.1\u00a0\u00a0 [52%]", "values": [-0.3,-0.25,-0.2,-0.15,-0.1,-0.05,0,0.05,0.1], "format": ".1f",
         "labelExpr": "indexof([-0.3,-0.2,-0.1,0,0.1], datum.value) >= 0 ? datum.label : ''",
         "tickOpacity": {"condition": {"test": "indexof([-0.3,-0.2,-0.1,0,0.1], datum.value) < 0", "value": 0}, "value": 1},
         "gridWidth": {"condition": {"test": "indexof([-0.3,-0.2,-0.1,0,0.1], datum.value) < 0", "value": 0.5}, "value": 1.1}}},
       "y": {"field": "y", "type": "quantitative", "scale": {"domain": [-0.119, 0.177], "nice": false, "zero": false},
        "axis": {"title": "Axis.2\u00a0\u00a0 [25.5%]", "values": [-0.1,-0.05,0,0.05,0.1,0.15], "format": ".1f",
         "labelExpr": "indexof([-0.1,0,0.1], datum.value) >= 0 ? datum.label : ''",
         "tickOpacity": {"condition": {"test": "indexof([-0.1,0,0.1], datum.value) < 0", "value": 0}, "value": 1},
         "gridWidth": {"condition": {"test": "indexof([-0.1,0,0.1], datum.value) < 0", "value": 0.5}, "value": 1.1}}},
       "color": {"field": "pt", "type": "nominal", "scale": {"domain": ["CD10","CD12","CD14","CD33","CD34"], "range": ["#E41A1C","#377EB8","#4DAF4A","#984EA3","#FF7F00"]},
        "legend": {"title": "Patients", "orient": "none", "legendX": 701, "legendY": 114, "symbolType": "circle", "symbolSize": 150, "symbolOpacity": 0.85, "rowPadding": -4}},
       "stroke": {"field": "pt", "type": "nominal", "scale": {"domain": ["CD10","CD12","CD14","CD33","CD34"], "range": ["#E41A1C","#377EB8","#4DAF4A","#984EA3","#FF7F00"]}, "legend": null},
       "shape": {"field": "ad", "type": "nominal", "scale": {"domain": ["CMC","CMC_P80","No_add","P80"], "range": ["circle","triangle-up","square","M-1,0H1M0,-1V1"]},
        "legend": {"title": "Additives", "orient": "none", "legendX": 701, "legendY": 13, "symbolSize": 150, "rowPadding": -4, "symbolStrokeColor": "#1A1A1A", "symbolStrokeWidth": 1.5, "symbolFillColor": "#1A1A1A",
         "encode": {"symbols": {"enter": {"stroke": {"value": "#1A1A1A"}, "strokeWidth": {"value": 1.5}}, "update": {"fill": {"value": "#1A1A1A"}, "stroke": {"value": "#1A1A1A"}, "strokeWidth": {"value": 1.5}, "opacity": {"value": 1}}}}}}
      }},
     {"mark": {"type": "point", "opacity": 0},
      "encoding": {"x": {"field": "x", "type": "quantitative", "axis": {"orient": "top", "title": "PCoA on weighted unifrac", "labels": false, "ticks": false, "domain": false, "grid": false, "titleAnchor": "start", "titleAlign": "left", "titlePadding": 4, "titleFontSize": 10, "titleColor": "#000000"}}}}
    ],
    "resolve": {"axis": {"x": "independent"}}
   }
  ],
  "spacing": 5,
  "resolve": {"scale": {"color": "shared", "stroke": "shared", "shape": "shared"}}
 },
 {
  "title": {"text": "d", "anchor": "start", "frame": "bounds", "fontSize": 14, "fontWeight": "bold", "offset": -4, "dx": 29},
  "hconcat": [
   {
    "data": {"name": "species"},
    "transform": [{"filter": "datum.s > 0"}],
    "width": 146, "height": 481,
    "mark": {"type": "text", "align": "right", "baseline": "middle", "fontSize": 10.5, "color": "#333333"},
    "encoding": {
     "y": {"field": "g", "type": "nominal", "axis": null,
      "scale": {"domain": ["strip","Streptococcus","Bacteroides","Fusobacterium","Proteus","[Ruminococcus] gnavus group","Enterococcus","Parabacteroides","Escherichia-Shigella","Uncl._Lachnospiraceae","Lachnoclostridium","Tyzzerella 4","Uncl._Enterobacteriaceae","[Clostridium] innocuum group","Anaerostipes","Morganella","Uncl._Veillonellaceae","Erysipelatoclostridium","Blautia","Fusicatenibacter","Veillonella","[Eubacterium] fissicatena group","Collinsella","Bifidobacterium","Acidaminococcus","[Ruminococcus] torques group"], "paddingInner": 0, "paddingOuter": 0}},
     "x": {"datum": 1, "type": "quantitative", "scale": {"domain": [0, 1]}, "axis": null},
     "text": {"field": "g"}
    }
   },
   {
    "data": {"name": "heat"},
    "transform": [{"lookup": "s", "from": {"data": {"name": "species"}, "key": "s", "fields": ["g"]}}],
    "facet": {"column": {"field": "p", "type": "nominal", "header": {"labels": false, "title": null}}},
    "spacing": {"column": 6.5},
    "spec": {
     "width": 110, "height": 481,
     "view": {"stroke": null},
     "encoding": {
      "y": {"field": "g", "type": "nominal",
       "scale": {"domain": ["strip","Streptococcus","Bacteroides","Fusobacterium","Proteus","[Ruminococcus] gnavus group","Enterococcus","Parabacteroides","Escherichia-Shigella","Uncl._Lachnospiraceae","Lachnoclostridium","Tyzzerella 4","Uncl._Enterobacteriaceae","[Clostridium] innocuum group","Anaerostipes","Morganella","Uncl._Veillonellaceae","Erysipelatoclostridium","Blautia","Fusicatenibacter","Veillonella","[Eubacterium] fissicatena group","Collinsella","Bifidobacterium","Acidaminococcus","[Ruminococcus] torques group"], "paddingInner": 0, "paddingOuter": 0},
       "axis": {"title": null, "labels": false, "tickSize": 4, "grid": false,
        "tickOpacity": {"condition": {"test": "datum.value == 'strip'", "value": 0}, "value": 1}}}
     },
     "layer": [
      {"transform": [{"filter": "datum.s == 0"}], "mark": {"type": "rect", "color": "#D9D9D9", "stroke": "#FFFFFF", "strokeWidth": 2}, "encoding": {}},
      {"transform": [{"filter": "datum.s == 0"}], "mark": {"type": "text", "fontSize": 9, "color": "#1A1A1A"}, "encoding": {"text": {"field": "p"}}},
      {"transform": [{"filter": "datum.s > 0 && datum.v == 0"}], "mark": {"type": "rect", "color": "#4E95CB", "stroke": "#FFFFFF", "strokeWidth": 0.8},
       "encoding": {"x": {"field": "a", "type": "nominal", "scale": {"domain": ["No_add","CMC","P80","CMC_P80"], "paddingInner": 0, "paddingOuter": 0},
        "axis": {"title": null, "labelAngle": -45, "labelFontSize": 9.5, "labelColor": "#4D4D4D", "tickSize": 3, "grid": false}}}},
      {"transform": [{"filter": "datum.s > 0 && datum.v > 0"}], "mark": {"type": "rect", "stroke": "#FFFFFF", "strokeWidth": 0.8},
       "encoding": {"x": {"field": "a", "type": "nominal", "scale": {"domain": ["No_add","CMC","P80","CMC_P80"], "paddingInner": 0, "paddingOuter": 0},
        "axis": {"title": null, "labelAngle": -45, "labelFontSize": 9.5, "labelColor": "#4D4D4D", "tickSize": 3, "grid": false}},
        "color": {"field": "v", "type": "quantitative",
         "scale": {"type": "log", "domain": [0.1, 0.5, 1, 3, 10, 60], "range": ["#9CC0DA", "#CAD8CC", "#EEF1C5", "#FBE6A9", "#F8B98F", "#EF7D4E"], "clamp": true},
         "legend": {"title": ["% Read", "Abundance"], "orient": "none", "legendX": 588, "legendY": 201, "values": [0.1, 1, 10], "format": ".1f", "gradientLength": 80, "gradientThickness": 14, "titleFontSize": 7.5, "labelFontSize": 7, "labelColor": "#4D4D4D", "titleColor": "#333333"}}}},
      {"transform": [{"filter": "datum.s > 0"}], "mark": {"type": "text", "fontSize": 9, "color": "#333333"},
       "encoding": {"x": {"field": "a", "type": "nominal", "scale": {"domain": ["No_add","CMC","P80","CMC_P80"], "paddingInner": 0, "paddingOuter": 0},
        "axis": {"title": null, "labelAngle": -45, "labelFontSize": 9.5, "labelColor": "#4D4D4D", "tickSize": 3, "grid": false}},
        "text": {"field": "v", "type": "quantitative", "format": ".1~f"}}}
     ]
    }
   }
  ],
  "spacing": 0,
  "resolve": {"scale": {"color": "independent", "y": "independent"}, "legend": {"color": "independent"}}
 }
],
"spacing": 88,
"resolve": {"scale": {"color": "independent", "stroke": "independent", "shape": "independent"}, "legend": {"color": "independent"}}
}
